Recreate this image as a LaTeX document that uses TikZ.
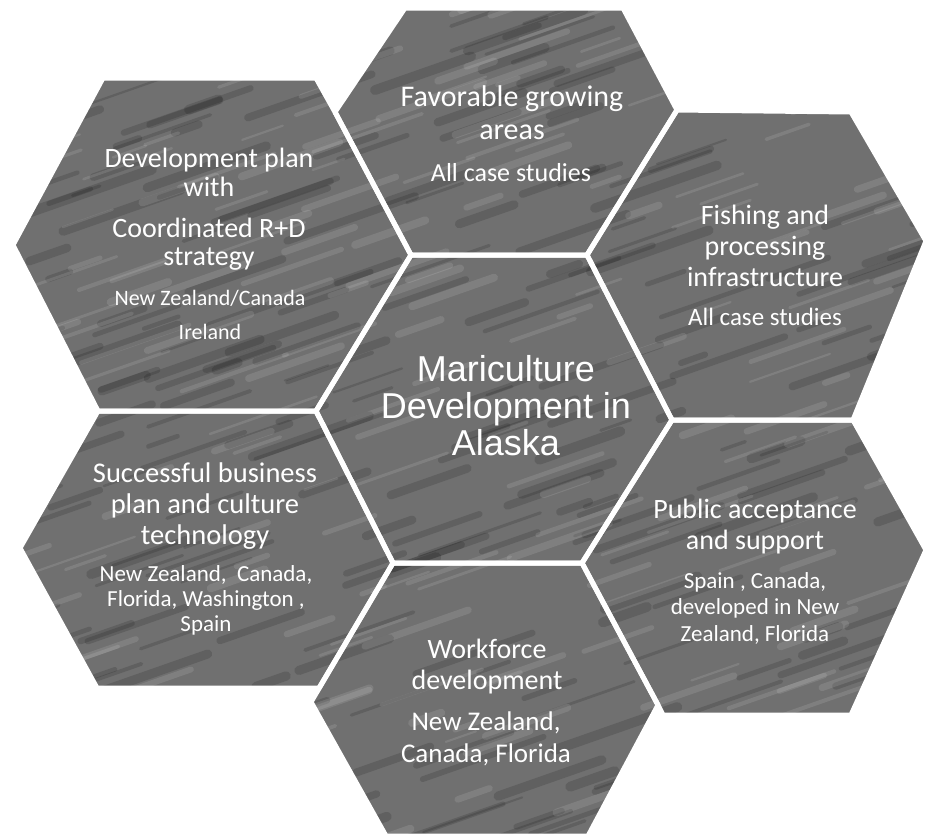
\documentclass[tikz,border=0pt]{standalone}
\usepackage{fontspec}
\setmainfont{Carlito}
\newfontfamily\arialf{Liberation Sans}
\definecolor{hexfill}{RGB}{112,112,112}
\tikzset{
  hexa/.style={fill=hexfill},
  gap/.style={draw=white, line width=5pt, line join=round},
  lab/.style={text=white, align=center, inner sep=0pt},
  streakdark/.style={draw=black, opacity=0.14, line cap=round},
  streaklight/.style={draw=white, opacity=0.11, line cap=round}
}
\begin{document}
\begin{tikzpicture}[x=1pt,y=-1pt]
\useasboundingbox (0,0) rectangle (926,836);
% shared corners
\coordinate (A) at (411,255);
\coordinate (B) at (587,255);
\coordinate (C) at (316,411);
\coordinate (D) at (672,420);
\coordinate (E) at (393,563);
\coordinate (F) at (582,563);
\coordinate (G) at (677,110);
\coordinate (H) at (335,112);
\coordinate (I) at (658,705);
\coordinate (J) at (311,702);
\coordinate (K) at (319,688);
% hexagons
\path[hexa] (405,8) -- (623,8) -- (G) -- (B) -- (A) -- (H) -- cycle;
\path[hexa] (103,78) -- (316,78) -- (H) -- (A) -- (C) -- (98,411) -- (13,245) -- cycle;
\path[hexa] (G) -- (851,112) -- (926,241) -- (853,420) -- (D) -- (B) -- cycle;
\path[hexa] (A) -- (B) -- (D) -- (F) -- (E) -- (C) -- cycle;
\path[hexa] (D) -- (853,420) -- (926,550) -- (851,715) -- (663,715) -- (I) -- (F) -- cycle;
\path[hexa] (98,411) -- (C) -- (E) -- (K) -- (97,688) -- (20,548) -- cycle;
\path[hexa] (E) -- (F) -- (I) -- (588,836) -- (386,836) -- (J) -- cycle;
% marble-like texture
\begin{scope}
\clip (405,8) -- (623,8) -- (G) -- (851,112) -- (926,241) -- (853,420) -- (926,550) -- (851,715) -- (663,715) -- (I) -- (588,836) -- (386,836) -- (J) -- (K) -- (97,688) -- (20,548) -- (98,411) -- (13,245) -- (103,78) -- (316,78) -- (H) -- cycle;
\pgfmathsetseed{4127}
\foreach \i in {1,...,320}{
  \pgfmathsetmacro\xa{rnd*1000-80}
  \pgfmathsetmacro\ya{rnd*920}
  \pgfmathsetmacro\len{20+rnd*110}
  \pgfmathsetmacro\wd{2+rnd*8}
  \draw[streakdark, line width=\wd pt] (\xa,\ya) -- ++(\len,-0.35*\len);
}
\foreach \i in {1,...,220}{
  \pgfmathsetmacro\xa{rnd*1000-80}
  \pgfmathsetmacro\ya{rnd*920}
  \pgfmathsetmacro\len{20+rnd*90}
  \pgfmathsetmacro\wd{2+rnd*6}
  \draw[streaklight, line width=\wd pt] (\xa,\ya) -- ++(\len,-0.35*\len);
}
\end{scope}
% white outlines
\draw[gap] (405,8) -- (623,8) -- (G) -- (B) -- (A) -- (H) -- cycle;
\draw[gap] (103,78) -- (316,78) -- (H) -- (A) -- (C) -- (98,411) -- (13,245) -- cycle;
\draw[gap] (G) -- (851,112) -- (926,241) -- (853,420) -- (D) -- (B) -- cycle;
\draw[gap] (A) -- (B) -- (D) -- (F) -- (E) -- (C) -- cycle;
\draw[gap] (D) -- (853,420) -- (926,550) -- (851,715) -- (663,715) -- (I) -- (F) -- cycle;
\draw[gap] (98,411) -- (C) -- (E) -- (K) -- (97,688) -- (20,548) -- cycle;
\draw[gap] (E) -- (F) -- (I) -- (588,836) -- (386,836) -- (J) -- cycle;
% texts
\node[lab, font=\fontsize{30}{33}\selectfont] (t1) at (512,113) {Favorable growing\\areas};
\node[lab, font=\fontsize{26}{30}\selectfont] (t2) at (511,173) {All case studies};
\node[lab, font=\fontsize{28}{29}\selectfont] (d1) at (209,172) {Development plan\\with};
\node[lab, font=\fontsize{28}{28}\selectfont] (d2) at (209,244) {Coordinated R+D\\strategy};
\node[lab, font=\fontsize{22}{34}\selectfont] (d3) at (210,315) {New Zealand/Canada\\Ireland};
\node[lab, font=\fontsize{28}{31}\selectfont] (f1) at (765,246) {Fishing and\\processing\\infrastructure};
\node[lab, font=\fontsize{25}{30}\selectfont] (f2) at (765,317) {All case studies};
\node[lab, font=\arialf\fontsize{36}{37}\selectfont] (c1) at (506,406) {Mariculture\\Development in\\Alaska};
\node[lab, font=\fontsize{28.5}{31}\selectfont] (s1) at (205,506) {Successful business\\plan and culture\\technology};
\node[lab, font=\fontsize{23}{25}\selectfont] (s2) at (206,600) {New Zealand,~ Canada,\\Florida, Washington ,\\Spain};
\node[lab, font=\fontsize{28}{31}\selectfont] (p1) at (755,527) {Public acceptance\\and support};
\node[lab, font=\fontsize{23}{26.5}\selectfont] (p2) at (755,608) {Spain , Canada,\\developed in New\\Zealand, Florida};
\node[lab, font=\fontsize{28}{31}\selectfont] (w1) at (487,667) {Workforce\\development};
\node[lab, font=\fontsize{27}{32}\selectfont] (w2) at (486,739) {New Zealand,\\Canada, Florida};
\end{tikzpicture}
\end{document}
